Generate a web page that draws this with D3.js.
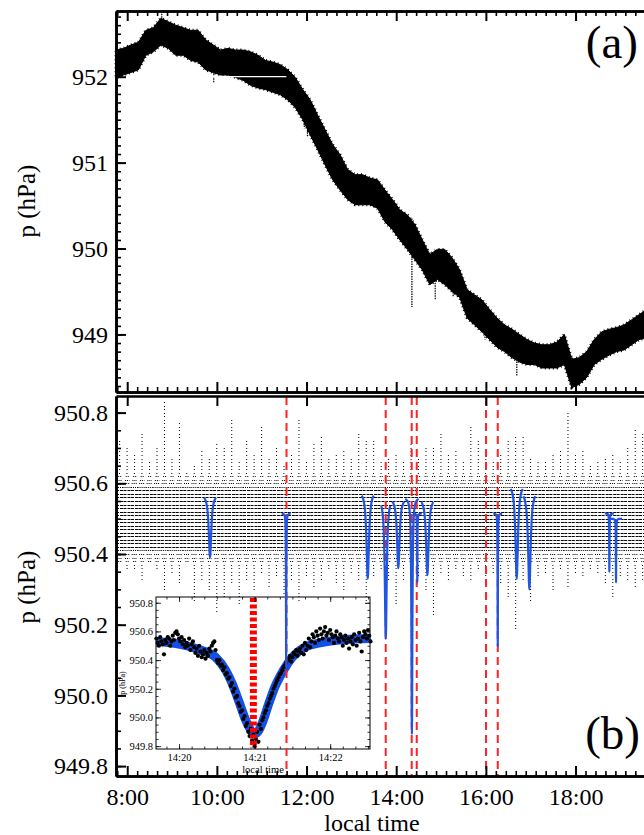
<!DOCTYPE html>
<html>
<head>
<meta charset="utf-8">
<script src="https://cdn.jsdelivr.net/npm/d3@7"></script>
<style>
body { margin: 0; background: #fff; }
svg { display: block; }
text { font-family: "Liberation Serif", "Times New Roman", "DejaVu Serif", serif; fill: #000; }
</style>
</head>
<body>
<div id="chart"></div>
<script>
var SERIF = '"Liberation Serif", "Times New Roman", "DejaVu Serif", serif';

// ---- panel (a): raw pressure, envelope of the dense trace every 10 min from 7:45 ----
var timesA = d3.range(73).map(function(i){ return 7.75 + i / 6; });
var upA = [952.31,952.33,952.37,952.40,952.54,952.57,952.68,952.64,952.60,952.57,952.54,952.54,952.43,952.37,952.31,952.33,
  952.31,952.31,952.29,952.25,952.19,952.17,952.14,952.08,951.99,951.85,951.73,951.55,951.38,951.21,951.09,950.92,950.86,950.86,
  950.82,950.80,950.68,950.57,950.45,950.39,950.28,950.10,949.93,949.99,949.99,949.89,949.75,949.52,949.46,949.40,949.29,949.19,
  949.11,949.06,949.00,948.94,948.90,948.88,948.88,948.91,949.00,948.71,948.73,948.80,948.94,949.03,949.06,949.08,949.11,949.17,
  949.23,949.29,949.35];
var loA = [951.99,952.02,952.05,952.08,952.25,952.29,952.37,952.33,952.25,952.25,952.19,952.17,952.08,952.05,952.02,952.02,
  951.99,951.96,951.90,951.87,951.85,951.82,951.79,951.73,951.64,951.50,951.32,951.15,950.97,950.80,950.68,950.57,950.51,950.51,
  950.51,950.47,950.31,950.22,950.10,949.99,949.87,949.75,949.58,949.64,949.58,949.50,949.43,949.19,949.11,949.03,948.94,948.85,
  948.80,948.73,948.68,948.65,948.65,948.61,948.61,948.61,948.65,948.38,948.42,948.50,948.65,948.71,948.76,948.80,948.82,948.88,
  948.94,948.96,949.00];
// isolated spikes: [time, from, to]
var spikesA = [[8.77,952.60,952.74],[9.93,952.10,951.93],[11.95,951.55,951.40],[12.02,951.50,951.30],[13.65,950.70,950.55],
  [14.35,950.35,949.32],[14.87,949.95,949.40],[15.27,949.55,949.44],[15.55,949.45,949.25],[15.98,949.15,948.94],
  [16.69,948.80,948.51],[17.36,948.75,948.71],[17.76,948.80,948.97],[17.94,948.45,948.39]];
var gapA = [9.8, 11.55, 952.0];

// ---- panel (b): detrended pressure, 10-min bins from 7:45, max / min of each bin ----
var binStart = 7.75;
var hiB = [950.72,950.70,950.68,950.74,950.66,950.70,950.83,950.67,950.77,950.63,950.65,950.69,950.67,950.71,950.70,950.78,
  950.66,950.72,950.68,950.76,950.67,950.70,950.65,950.68,950.78,950.66,950.71,950.73,950.67,950.68,950.69,950.67,950.74,950.72,
  950.72,950.66,950.67,950.68,950.66,950.71,950.67,950.70,950.70,950.74,950.68,950.69,950.66,950.76,950.72,950.67,950.66,950.68,
  950.72,950.73,950.73,950.67,950.66,950.66,950.68,950.69,950.80,950.68,950.69,950.65,950.66,950.67,950.68,950.66,950.70,950.75,
  950.74];
var loB = [950.38,950.36,950.36,950.33,950.38,950.36,950.30,950.35,950.32,950.38,950.27,950.33,950.30,950.24,950.28,950.32,
  950.26,950.33,950.30,950.35,950.31,950.34,950.29,950.33,950.27,950.34,950.31,950.33,950.36,950.32,950.30,950.35,950.33,950.26,
  950.34,950.36,950.33,950.26,950.33,950.35,950.34,950.30,950.23,950.35,950.33,950.36,950.34,950.33,950.36,950.32,950.35,950.32,
  950.28,950.19,950.33,950.27,950.34,950.35,950.30,950.36,950.31,950.35,950.34,950.36,950.35,950.32,950.28,950.34,950.33,950.31,
  950.33];
var levelCentre = 950.50;

// dust-devil fits: centre time (h), FWHM (min), half window (in FWHM), baseline, minimum
var fitT    = [9.847, 11.545, 13.365, 13.767, 14.047, 14.35, 14.471, 14.695, 16.265, 16.688, 16.970, 18.754, 18.903];
var fitFwhm = [4, 0.5, 4, 3, 4, 1.5, 0.5, 4, 0.5, 4, 4, 0.5, 0.5];
var fitWin  = [2, 12, 2, 2, 2, 6, 12, 2, 12, 2, 2, 12, 16];
var fitBase = [950.57, 950.515, 950.58, 950.56, 950.56, 950.56, 950.515, 950.56, 950.515, 950.60, 950.58, 950.515, 950.50];
var fitMin  = [950.39, 950.08, 950.33, 950.16, 950.36, 949.89, 950.32, 950.34, 950.14, 950.33, 950.30, 950.35, 950.32];
// Lorentzian profile table (offset in FWHM, fraction of depth)
var profU = [0, 0.125, 0.25, 0.375, 0.5, 0.75, 1, 1.5, 2, 3, 4, 6, 8, 12, 16];
var profV = [1, 0.941, 0.8, 0.64, 0.5, 0.308, 0.2, 0.1, 0.059, 0.027, 0.015, 0.0069, 0.0039, 0.0017, 0.001];

var eventLines = [11.553, 13.766, 14.346, 14.458, 16.004, 16.265];

// ---- inset: one event, seconds after 14:20 ----
var insetFitS = [-18, 1, 17, 29, 37, 42, 48, 53, 58, 61, 66, 71, 76, 83, 90, 100, 112, 128, 152];
var insetFitP = [950.53, 950.51, 950.47, 950.42, 950.33, 950.24, 950.10, 949.98, 949.90, 949.89, 949.96, 950.09, 950.21,
  950.33, 950.42, 950.49, 950.52, 950.54, 950.55];
var insetDots = [[-18,950.55],[-17,950.52],[-16,950.50],[-15,950.56],[-14,950.53],[-13,950.51],[-12,950.44],[-11,950.54],
  [-10,950.52],[-9,950.56],[-8,950.55],[-7,950.50],[-6,950.53],[-5,950.57],[-4,950.54],[-3,950.59],[-2,950.60],[-1,950.58],
  [0,950.55],[1,950.53],[2,950.56],[3,950.51],[4,950.54],[5,950.49],[6,950.52],[7,950.50],[8,950.55],[9,950.47],[10,950.51],
  [11,950.53],[12,950.49],[13,950.45],[14,950.48],[15,950.43],[16,950.50],[17,950.46],[18,950.42],[19,950.44],[20,950.47],
  [21,950.41],[22,950.45],[23,950.43],[24,950.48],[25,950.46],[26,950.50],[27,950.52],[28,950.53],[29,950.47],[30,950.40],
  [31,950.38],[32,950.40],[33,950.36],[34,950.37],[35,950.33],[36,950.35],[37,950.30],[38,950.31],[39,950.27],[40,950.28],
  [41,950.22],[42,950.24],[43,950.18],[44,950.20],[45,950.14],[46,950.15],[47,950.10],[48,950.08],[49,950.04],[50,950.05],
  [51,949.99],[52,950.01],[53,949.94],[54,949.96],[55,949.90],[56,949.87],[57,949.92],[58,949.84],[59,949.88],[60,949.80],
  [61,949.85],[62,949.90],[63,949.83],[64,949.95],[65,949.92],[66,949.98],[67,950.00],[68,950.03],[69,950.05],[70,950.08],
  [71,950.10],[72,950.13],[73,950.15],[74,950.17],[75,950.20],[76,950.22],[77,950.24],[78,950.26],[79,950.28],[80,950.30],
  [81,950.31],[82,950.33],[83,950.35],[84,950.36],[85,950.38],[86,950.40],[87,950.41],[88,950.43],[89,950.39],[90,950.42],
  [91,950.45],[92,950.44],[93,950.47],[94,950.43],[95,950.46],[96,950.48],[97,950.45],[98,950.50],[99,950.44],[100,950.52],
  [101,950.47],[102,950.50],[103,950.55],[104,950.49],[105,950.53],[106,950.58],[107,950.56],[108,950.52],[109,950.60],
  [110,950.57],[111,950.54],[112,950.62],[113,950.58],[114,950.55],[115,950.60],[116,950.63],[117,950.57],[118,950.59],
  [119,950.54],[120,950.61],[121,950.58],[122,950.56],[123,950.52],[124,950.57],[125,950.60],[126,950.55],[127,950.53],
  [128,950.58],[129,950.56],[130,950.50],[131,950.54],[132,950.57],[133,950.52],[134,950.55],[135,950.48],[136,950.53],
  [137,950.56],[138,950.51],[139,950.58],[140,950.54],[141,950.50],[142,950.55],[143,950.59],[144,950.53],[145,950.46],
  [146,950.56],[147,950.60],[148,950.58],[149,950.55],[150,950.61],[151,950.57],[152,950.53]];
var insetLine = 59;

var xMajor = [8, 10, 12, 14, 16, 18, 20];

var width = 644, height = 835;
var svg = d3.select('#chart').append('svg').attr('width', width).attr('height', height);

var x = d3.scaleLinear().domain([7.75, 19.75]).range([116, 654]);
var yA = d3.scaleLinear().domain([948.33, 952.765]).range([392, 11]);
var yB = d3.scaleLinear().domain([949.772, 950.847]).range([776, 396]);

var xMinor = d3.range(-2, 60).map(function(i){ return 8 + i * 2 / 9; })
  .filter(function(t){ return t > 7.75 && t < 19.75 && Math.abs((t - 8) / 2 - Math.round((t - 8) / 2)) > 0.01; });

// ---------- panel (a) ----------
var gA = svg.append('g');
var areaA = d3.area()
  .x(function(t){ return x(t); })
  .y0(function(t, i){ return yA(loA[i]); })
  .y1(function(t, i){ return yA(upA[i]); });
gA.append('path').datum(timesA).attr('d', areaA)
  .attr('fill', '#000').attr('stroke', '#000').attr('stroke-width', 1);
// speckled fringe of the trace
gA.append('path').datum(timesA).attr('d', areaA)
  .attr('fill', 'none').attr('stroke', '#000').attr('stroke-width', 3).attr('stroke-dasharray', '1,3');
gA.selectAll('line.spike').data(spikesA).enter().append('line')
  .attr('x1', function(d){ return x(d[0]); }).attr('x2', function(d){ return x(d[0]); })
  .attr('y1', function(d){ return yA(d[1]); }).attr('y2', function(d){ return yA(d[2]); })
  .attr('stroke', '#000').attr('stroke-width', 1.2).attr('stroke-dasharray', '1.5,1');
gA.append('line')
  .attr('x1', x(gapA[0])).attr('x2', x(gapA[1]))
  .attr('y1', yA(gapA[2])).attr('y2', yA(gapA[2]))
  .attr('stroke', '#fff').attr('stroke-width', 1.2);

// ---------- inset (drawn under panel b data) ----------
var ix = d3.scaleLinear().domain([-18.3, 151.6]).range([156, 370]);
var iy = d3.scaleLinear().domain([949.78, 950.84]).range([749, 597]);
var gI = svg.append('g');
gI.append('rect').attr('x', 156).attr('y', 597).attr('width', 214).attr('height', 152)
  .attr('fill', '#fff').attr('stroke', '#000').attr('stroke-width', 1);
gI.append('path').datum(insetFitS)
  .attr('d', d3.line().curve(d3.curveMonotoneX)
    .x(function(s){ return ix(s); })
    .y(function(s, i){ return iy(insetFitP[i]); }))
  .attr('fill', 'none').attr('stroke', '#1450e6').attr('stroke-width', 9);
gI.selectAll('circle').data(insetDots).enter().append('circle')
  .attr('cx', function(d){ return ix(d[0]); }).attr('cy', function(d){ return iy(d[1]); })
  .attr('r', 2.1).attr('fill', '#000');
gI.append('line').attr('x1', ix(insetLine)).attr('x2', ix(insetLine))
  .attr('y1', 598).attr('y2', 748)
  .attr('stroke', '#f00').attr('stroke-width', 7).attr('stroke-dasharray', '4,2.5');

function insetAxis(axis, tx, ty, vals, size, fmt) {
  var g = gI.append('g').attr('transform', 'translate(' + tx + ',' + ty + ')')
    .call(axis.tickValues(vals).tickSize(size).tickSizeOuter(0).tickPadding(3).tickFormat(fmt));
  g.select('.domain').remove();
  g.selectAll('line').attr('stroke-width', 0.8);
  g.selectAll('text').attr('font-size', 10.5).style('font-family', SERIF);
  return g;
}
var iyMaj = [949.8, 950.0, 950.2, 950.4, 950.6, 950.8];
var iyMin = d3.range(949.8, 950.84, 0.05);
var ixMaj = [0, 60, 120];
var ixMin = d3.range(-10, 152, 10);
insetAxis(d3.axisLeft(iy), 156, 0, iyMaj, -5, d3.format('.1f'));
insetAxis(d3.axisLeft(iy), 156, 0, iyMin, -2.5, '');
insetAxis(d3.axisRight(iy), 370, 0, iyMaj, -5, '');
insetAxis(d3.axisRight(iy), 370, 0, iyMin, -2.5, '');
insetAxis(d3.axisBottom(ix), 0, 749, ixMaj, -5, function(s){ return '14:2' + (s / 60); })
  .selectAll('text').attr('dy', '0.85em');
insetAxis(d3.axisBottom(ix), 0, 749, ixMin, -2.5, '');
insetAxis(d3.axisTop(ix), 0, 597, ixMaj, -5, '');
insetAxis(d3.axisTop(ix), 0, 597, ixMin, -2.5, '');
gI.append('text').attr('x', 263).attr('y', 773).attr('text-anchor', 'middle').attr('font-size', 10.5).text('local time');
gI.append('text').attr('transform', 'translate(125,683) rotate(-90)').attr('text-anchor', 'middle')
  .attr('font-size', 8).attr('fill', '#555').text('p (hPa)');

// ---------- panel (b) data ----------
var gB = svg.append('g');
var binW = x(binStart + 1 / 6) - x(binStart);
hiB.forEach(function(hi, i){
  var tc = binStart + (i + 0.5) / 6;
  var cx = x(tc);
  for (var k = Math.round(loB[i] * 100); k <= Math.round(hi * 100); k++) {
    var p = k / 100, d = Math.abs(p - levelCentre);
    var core = d <= 0.09;
    var w = core ? binW : (d <= 0.14 ? Math.max(1.2, binW * (1 - (d - 0.09) / 0.05)) : 1.2);
    var yy = Math.round(yB(p)) + 0.5;
    gB.append('line').attr('x1', cx - w / 2).attr('x2', cx + w / 2).attr('y1', yy).attr('y2', yy)
      .attr('stroke', '#000').attr('stroke-width', 1).attr('stroke-dasharray', core ? '3,1' : '1,1');
  }
});

gB.selectAll('line.ev').data(eventLines).enter().append('line')
  .attr('x1', function(t){ return x(t); }).attr('x2', function(t){ return x(t); })
  .attr('y1', 397).attr('y2', 775)
  .attr('stroke', '#f22').attr('stroke-width', 2).attr('stroke-dasharray', '8,5');

var fitLine = d3.line().curve(d3.curveMonotoneX)
  .x(function(d){ return x(d[0]); }).y(function(d){ return yB(d[1]); });
fitT.forEach(function(t0, j){
  var pts = [];
  var depth = fitBase[j] - fitMin[j];
  profU.forEach(function(u, k){
    if (u > fitWin[j]) return;
    var dt = u * fitFwhm[j] / 60;
    pts.push([t0 - dt, fitBase[j] - depth * profV[k]]);
    if (u > 0) pts.push([t0 + dt, fitBase[j] - depth * profV[k]]);
  });
  pts.sort(function(a, b){ return a[0] - b[0]; });
  gB.append('path').attr('d', fitLine(pts))
    .attr('fill', 'none').attr('stroke', '#1f55e0').attr('stroke-width', 2.2);
});

// ---------- axes ----------
function axisG(axis, tx, ty) {
  return svg.append('g').attr('transform', 'translate(' + tx + ',' + ty + ')').call(axis);
}
function styleAxis(g, sw) {
  g.select('.domain').attr('stroke-width', 2.6);
  g.selectAll('.tick line').attr('stroke-width', sw);
  g.selectAll('text').attr('font-size', 24).style('font-family', SERIF);
  return g;
}
var yAMaj = [949, 950, 951, 952];
var yAMin = d3.range(948.4, 952.76, 0.1);
var yBMaj = [949.8, 950.0, 950.2, 950.4, 950.6, 950.8];
var yBMin = d3.range(949.8, 950.84, 0.05);

// panel a
styleAxis(axisG(d3.axisLeft(yA).tickValues(yAMin).tickSize(-5).tickSizeOuter(0).tickFormat(''), 116, 0), 1.6);
styleAxis(axisG(d3.axisLeft(yA).tickValues(yAMaj).tickSize(-10).tickSizeOuter(0).tickPadding(8).tickFormat(d3.format('d')), 116, 0), 2);
styleAxis(axisG(d3.axisRight(yA).tickValues(yAMin).tickSize(-5).tickSizeOuter(0).tickFormat(''), 654, 0), 1.6);
styleAxis(axisG(d3.axisRight(yA).tickValues(yAMaj).tickSize(-10).tickSizeOuter(0).tickFormat(''), 654, 0), 2);
styleAxis(axisG(d3.axisTop(x).tickValues(xMinor).tickSize(-5).tickSizeOuter(0).tickFormat(''), 0, 11), 1.6);
styleAxis(axisG(d3.axisTop(x).tickValues(xMajor).tickSize(-10).tickSizeOuter(0).tickFormat(''), 0, 11), 2);
styleAxis(axisG(d3.axisBottom(x).tickValues(xMinor).tickSize(-5).tickSizeOuter(0).tickFormat(''), 0, 392), 1.6);
styleAxis(axisG(d3.axisBottom(x).tickValues(xMajor).tickSize(-10).tickSizeOuter(0).tickFormat(''), 0, 392), 2);
// panel b
styleAxis(axisG(d3.axisLeft(yB).tickValues(yBMin).tickSize(-5).tickSizeOuter(0).tickFormat(''), 116, 0), 1.6);
styleAxis(axisG(d3.axisLeft(yB).tickValues(yBMaj).tickSize(-10).tickSizeOuter(0).tickPadding(8).tickFormat(d3.format('.1f')), 116, 0), 2);
styleAxis(axisG(d3.axisRight(yB).tickValues(yBMin).tickSize(-5).tickSizeOuter(0).tickFormat(''), 654, 0), 1.6);
styleAxis(axisG(d3.axisRight(yB).tickValues(yBMaj).tickSize(-10).tickSizeOuter(0).tickFormat(''), 654, 0), 2);
styleAxis(axisG(d3.axisTop(x).tickValues(xMajor).tickSize(-10).tickSizeOuter(0).tickFormat(''), 0, 396), 2);
styleAxis(axisG(d3.axisBottom(x).tickValues(xMinor).tickSize(-5).tickSizeOuter(0).tickFormat(''), 0, 776), 1.6);
styleAxis(axisG(d3.axisBottom(x).tickValues(xMajor).tickSize(-10).tickSizeOuter(0).tickPadding(12)
  .tickFormat(function(h){ return h < 20 ? h + ':00' : ''; }), 0, 776), 2);

// titles
svg.append('text').attr('transform', 'translate(35,201) rotate(-90)').attr('text-anchor', 'middle')
  .attr('font-size', 25).text('p (hPa)');
svg.append('text').attr('transform', 'translate(35,587) rotate(-90)').attr('text-anchor', 'middle')
  .attr('font-size', 25).text('p (hPa)');
svg.append('text').attr('x', 372).attr('y', 831).attr('text-anchor', 'middle').attr('font-size', 24).text('local time');
svg.append('text').attr('x', 638).attr('y', 58).attr('text-anchor', 'end').attr('font-size', 47).text('(a)');
svg.append('text').attr('x', 640).attr('y', 749).attr('text-anchor', 'end').attr('font-size', 47).text('(b)');
</script>
</body>
</html>
